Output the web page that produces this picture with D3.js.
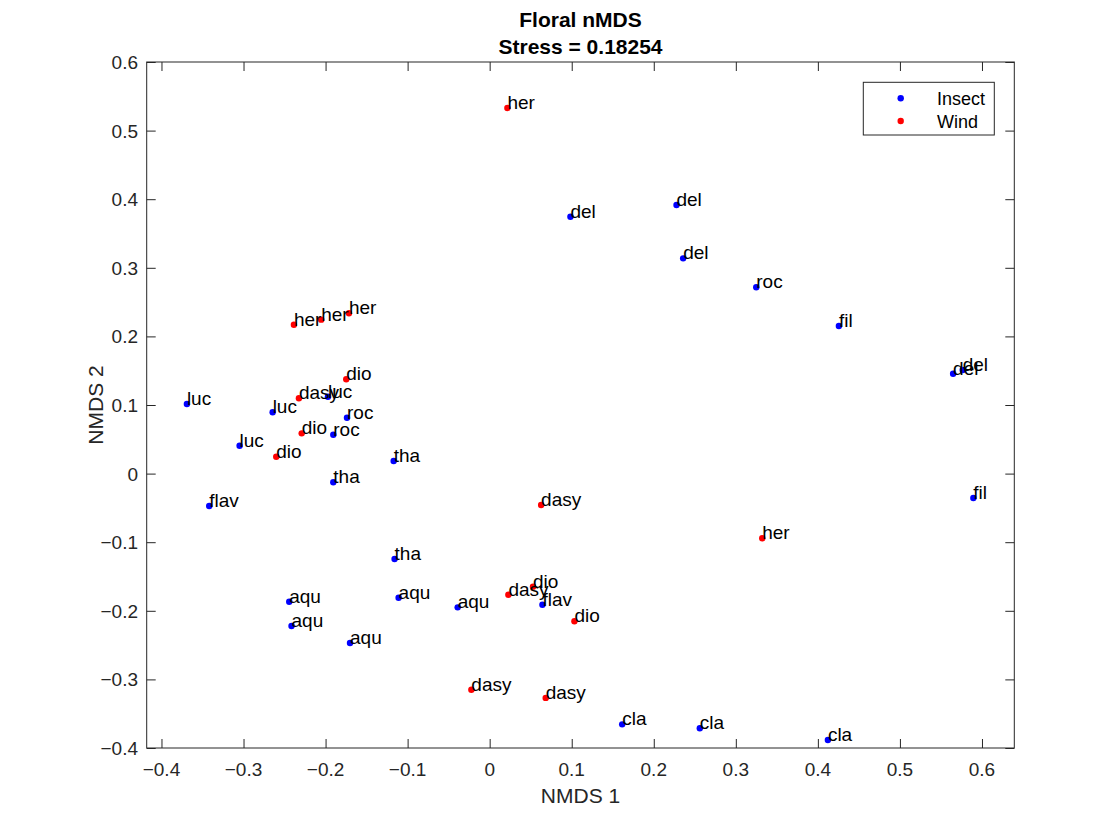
<!DOCTYPE html>
<html>
<head>
<meta charset="utf-8">
<script src="https://cdn.jsdelivr.net/npm/d3@7"></script>
<style>
  body { margin: 0; background: #fff; }
  svg { font-family: "Liberation Sans", Arial, Helvetica, sans-serif; }
</style>
</head>
<body>
<div id="chart"></div>
<script>
// species codes, one per sample
var labels = ["her","del","del","del","roc","fil","del","del","fil",
  "her","her","her","dio","dasy","luc","luc","luc","roc","dio","roc","luc","dio",
  "tha","tha","flav","dasy","her","tha","aqu","aqu","aqu","dasy","dio","flav","dio",
  "aqu","aqu","dasy","dasy","cla","cla","cla"];

// pollination syndrome
var groups = ["Wind","Insect","Insect","Insect","Insect","Insect","Insect","Insect","Insect",
  "Wind","Wind","Wind","Wind","Wind","Insect","Insect","Insect","Insect","Wind","Insect","Insect","Wind",
  "Insect","Insect","Insect","Wind","Wind","Insect","Insect","Insect","Insect","Wind","Wind","Insect","Wind",
  "Insect","Insect","Wind","Wind","Insect","Insect","Insect"];

var nmds1 = [0.0216,0.0984,0.2277,0.2358,0.3249,0.4256,0.5648,0.5765,0.5895,
  -0.2386,-0.2053,-0.1715,-0.1748,-0.2325,-0.1971,-0.3690,-0.2645,-0.1739,-0.2291,-0.1906,-0.3048,-0.2601,
  -0.1170,-0.1906,-0.3418,0.0627,0.3322,-0.1159,-0.2443,-0.1110,-0.0390,0.0228,0.0528,0.0643,0.1033,
  -0.2415,-0.1702,-0.0223,0.0683,0.1615,0.2561,0.4122];

var nmds2 = [0.533,0.3745,0.3915,0.3138,0.2716,0.2152,0.1456,0.151,-0.0356,
  0.217,0.2244,0.2337,0.1375,0.1098,0.1121,0.1015,0.0894,0.0815,0.0587,0.0567,0.0407,0.0246,
  0.0184,-0.0127,-0.0472,-0.0458,-0.0943,-0.1245,-0.1867,-0.1809,-0.195,-0.1765,-0.1648,-0.1911,-0.2153,
  -0.2222,-0.2469,-0.315,-0.327,-0.3655,-0.3713,-0.3883];

var legendNames = ["Insect","Wind"];
var legendColors = ["#0000ff","#ff0000"];
var xTicks = [-0.4,-0.3,-0.2,-0.1,0,0.1,0.2,0.3,0.4,0.5,0.6];
var yTicks = [-0.4,-0.3,-0.2,-0.1,0,0.1,0.2,0.3,0.4,0.5,0.6];

var W = 1120, H = 840;
var L = 146.7, R = 1014.3, T = 62, B = 748;
var axisCol = "#262626";

var svg = d3.select("#chart").append("svg")
    .attr("width", W).attr("height", H);

var x = d3.scaleLinear().domain([-0.418, 0.6394]).range([L, R]);
var y = d3.scaleLinear().domain([-0.4, 0.6]).range([B, T]);
var color = d3.scaleOrdinal().domain(legendNames).range(legendColors);

var fmt = function(d){ return d === 0 ? "0" : d3.format(".1f")(d); };

// axes, ticks pointing inward, mirrored on top/right
svg.append("g").attr("transform", "translate(0," + B + ")")
    .call(d3.axisTop(x).tickValues(xTicks).tickSize(9).tickFormat(""));
svg.append("g").attr("transform", "translate(0," + T + ")")
    .call(d3.axisBottom(x).tickValues(xTicks).tickSize(9).tickFormat(""));
svg.append("g").attr("transform", "translate(" + L + ",0)")
    .call(d3.axisRight(y).tickValues(yTicks).tickSize(9).tickFormat(""));
svg.append("g").attr("transform", "translate(" + R + ",0)")
    .call(d3.axisLeft(y).tickValues(yTicks).tickSize(9).tickFormat(""));
svg.selectAll(".domain").remove();
svg.selectAll(".tick line").attr("stroke", axisCol);

svg.append("rect")
    .attr("x", L).attr("y", T).attr("width", R - L).attr("height", B - T)
    .attr("fill", "none").attr("stroke", axisCol).attr("stroke-width", 1);

// tick labels
svg.append("g").selectAll("text").data(xTicks).join("text")
    .attr("x", function(d){ return x(d); })
    .attr("y", 776)
    .attr("text-anchor", "middle")
    .attr("font-size", 19).attr("fill", axisCol)
    .text(fmt);

svg.append("g").selectAll("text").data(yTicks).join("text")
    .attr("x", 138)
    .attr("y", function(d){ return y(d) + 7; })
    .attr("text-anchor", "end")
    .attr("font-size", 19).attr("fill", axisCol)
    .text(fmt);

// axis labels
svg.append("text")
    .attr("x", (L + R) / 2).attr("y", 803)
    .attr("text-anchor", "middle")
    .attr("font-size", 21).attr("fill", axisCol)
    .text("NMDS 1");

svg.append("text")
    .attr("transform", "translate(103," + (T + B) / 2 + ") rotate(-90)")
    .attr("text-anchor", "middle")
    .attr("font-size", 21).attr("fill", axisCol)
    .text("NMDS 2");

// title
svg.append("text")
    .attr("x", (L + R) / 2).attr("y", 27)
    .attr("text-anchor", "middle")
    .attr("font-size", 21).attr("font-weight", "bold").attr("fill", "#000")
    .text("Floral nMDS");
svg.append("text")
    .attr("x", (L + R) / 2).attr("y", 54)
    .attr("text-anchor", "middle")
    .attr("font-size", 21).attr("font-weight", "bold").attr("fill", "#000")
    .text("Stress = 0.18254");

// points then labels
var idx = d3.range(labels.length);

svg.append("g").selectAll("circle").data(idx).join("circle")
    .attr("cx", function(i){ return x(nmds1[i]); })
    .attr("cy", function(i){ return y(nmds2[i]); })
    .attr("r", 3.2)
    .attr("fill", function(i){ return color(groups[i]); });

svg.append("g").selectAll("text").data(idx).join("text")
    .attr("x", function(i){ return x(nmds1[i]); })
    .attr("y", function(i){ return y(nmds2[i]) + 1; })
    .attr("font-size", 19).attr("fill", "#000")
    .text(function(i){ return labels[i]; });

// legend
var leg = svg.append("g");
leg.append("rect")
    .attr("x", 863.3).attr("y", 82.3).attr("width", 131).attr("height", 52.7)
    .attr("fill", "#fff").attr("stroke", axisCol).attr("stroke-width", 1);

leg.selectAll("circle").data(legendNames).join("circle")
    .attr("cx", 900.7)
    .attr("cy", function(d, i){ return 98.3 + i * 22.7; })
    .attr("r", 3.2)
    .attr("fill", function(d){ return color(d); });

leg.selectAll("text").data(legendNames).join("text")
    .attr("x", 937)
    .attr("y", function(d, i){ return 104.8 + i * 22.7; })
    .attr("font-size", 18).attr("fill", "#000")
    .text(function(d){ return d; });
</script>
</body>
</html>
